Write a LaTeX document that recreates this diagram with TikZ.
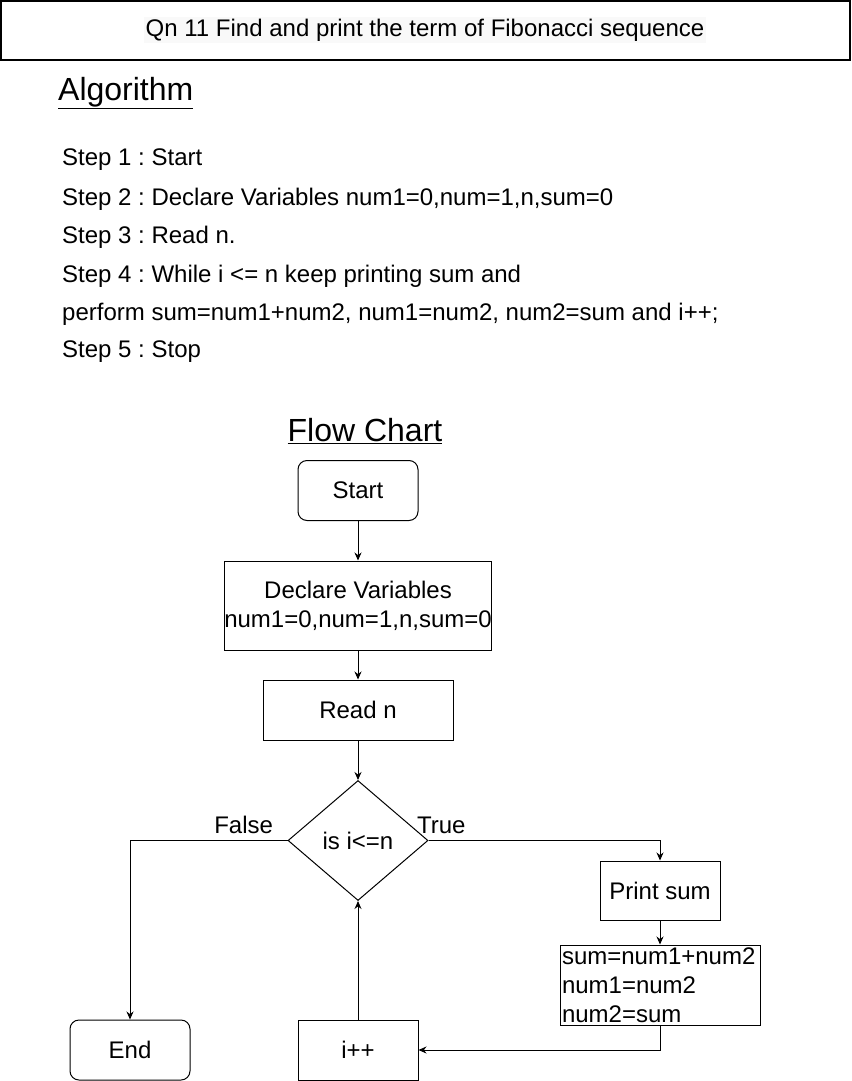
\documentclass[tikz,border=0pt]{standalone}
\usepackage{fontspec}
\setmainfont{Liberation Sans}
\usepackage{xcolor}
\usetikzlibrary{shapes,arrows.meta}
\definecolor{titlebg}{RGB}{249,249,249}
\frenchspacing

\begin{document}
\begin{tikzpicture}[x=1pt,y=-1pt]
			\tikzstyle{txt}=[font=\fontsize{24}{29}\selectfont,inner sep=0pt]
			\tikzstyle{heading}=[font=\fontsize{32}{38}\selectfont,inner sep=0pt]
			\tikzstyle{startstop}=[rectangle,rounded corners=9pt,draw,line width=1pt,minimum width=120pt,minimum height=60pt,font=\fontsize{24}{29}\selectfont]
			\tikzstyle{process}=[rectangle,draw,line width=1pt,minimum height=60pt,font=\fontsize{24}{29}\selectfont,inner sep=0pt]
			\tikzstyle{decision}=[diamond,draw,line width=1pt,minimum width=140pt,minimum height=120pt,inner sep=0pt,font=\fontsize{24}{29}\selectfont]
			\tikzstyle{arrow}=[line width=1pt,-{Stealth[length=8pt,width=7pt]}]
			\tikzstyle{lbl}=[font=\fontsize{24}{29}\selectfont,inner sep=0pt]
			
			\useasboundingbox (0,0) rectangle (851,1081);
			
			% title
			\node[draw,line width=1.3pt,minimum width=849pt,minimum height=59pt] (titlebox) at (425.5,30.5) {};
			\node[txt,fill=titlebg,inner sep=2pt] (title) at (425,30) {Qn 11 Find and print the term of Fibonacci sequence};
			
			% algorithm
			\node[heading,anchor=west] (algo) at (58,93) {\underline{Algorithm}};
			\node[txt,anchor=west] (s1) at (62,160) {Step 1 : Start};
			\node[txt,anchor=west] (s2) at (62,199) {Step 2 : Declare Variables num1=0,num=1,n,sum=0};
			\node[txt,anchor=west] (s3) at (62,237) {Step 3 : Read n.};
			\node[txt,anchor=west] (s4) at (62,276) {Step 4 : While i <= n keep printing sum and};
			\node[txt,anchor=west] (s4b) at (62,314) {perform sum=num1+num2, num1=num2, num2=sum and i++;};
			\node[txt,anchor=west] (s5) at (62,352) {Step 5 : Stop};
			
			% flow chart
			\node[heading] (fc) at (365,431) {\underline{Flow Chart}};
			\node[startstop] (start) at (358,490.5) {Start};
			\node[process,minimum width=264pt,minimum height=89pt,align=center] (decl) at (358,605.5) {Declare Variables\\num1=0,num=1,n,sum=0};
			\node[process,minimum width=190pt] (read) at (358,710) {Read n};
			\node[decision] (cond) at (358,840.5) {is i<=n};
			\node[process,minimum width=120pt,minimum height=59pt] (print) at (660,890.5) {Print sum};
			\node[process,minimum width=200pt,minimum height=80pt,text width=196pt,align=left,inner sep=2pt] (calc) at (660,985) {sum=num1+num2\\num1=num2\\num2=sum};
			\node[startstop] (end) at (130,1050) {End};
			\node[process,minimum width=120pt,minimum height=60pt] (inc) at (358,1050) {i++};
			
			\draw[arrow] (start) -- (decl);
			\draw[arrow] (decl) -- (read);
			\draw[arrow] (read) -- (cond);
			\draw[arrow] (cond.east) node[lbl,anchor=south west,xshift=-12pt,yshift=6pt] (true) {True} -| (print.north);
			\draw[arrow] (cond.west) node[lbl,anchor=south east,xshift=-14pt,yshift=6pt] (false) {False} -| (end.north);
			\draw[arrow] (print) -- (calc);
			\draw[arrow] (calc.south) |- (inc.east);
			\draw[arrow] (inc) -- (cond);
\end{tikzpicture}
\end{document}
